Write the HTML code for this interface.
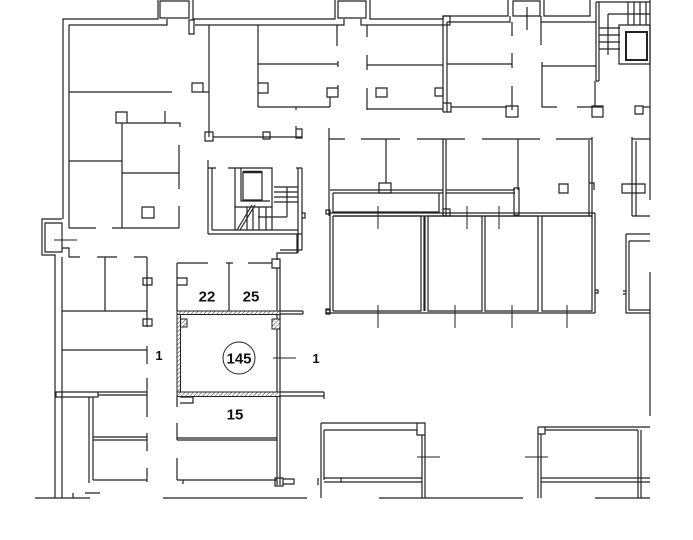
<!DOCTYPE html>
<html><head><meta charset="utf-8"><style>
html,body{margin:0;padding:0;background:#fff;}
svg{display:block;}
text{font-family:"Liberation Sans",sans-serif;fill:#111;}
</style></head><body>
<svg width="693" height="540" viewBox="0 0 693 540" xmlns="http://www.w3.org/2000/svg">
<defs>
<pattern id="h" width="3" height="3" patternUnits="userSpaceOnUse" patternTransform="rotate(45)">
<rect width="3" height="3" fill="#fff"/><line x1="0" y1="0" x2="0" y2="3" stroke="#333" stroke-width="1"/>
</pattern>
</defs>
<rect width="693" height="540" fill="#fff"/>
<g fill="none" stroke="#222" stroke-width="1.2">
<!-- top wall -->
<path d="M63,219 V19 H158 V0 M160,1 H189 V18 H160 Z M193,0 V19 H335 V0 M338,1 H366 V18 H338 Z M370,0 V19 H443 V16 H508 V0 M513,1 H540 V16 H513 Z M544,0 V16 H590 V0"/>
<path d="M527,7 V30"/>
<path d="M69,228 V25 H167 V19 M189,20 H194 V34 H189 Z M195,25 H344 V19 M361,19 V25 H443 M447,22 H510 V16 M541,16 V22 H596"/>
<path d="M443,16 V112 M447,22 V112 M443,16 H450 V25 H443 M443,103 H451 V112 H443"/>
<!-- top-left rooms -->
<path d="M69,92 H172 M192,83 H203 V92 H192 Z M203,92 H209"/>
<path d="M116,112 H127 V123 H116 Z M127,123 H180 V127 M165,111 V123"/>
<path d="M122,123 V228 M69,161 H122 M122,173 H179 M179,145 V189 M179,206 V228"/>
<path d="M142,207 H154 V218 H142 Z"/>
<path d="M69,228 H96 M112,228 H179"/>
<path d="M209,25 V137 M205,132 H213 V141 H205 Z M213,137 H302 M263,132 H270 V139 H263 Z M296,129 H302 V138 H296 Z M296,126 V129"/>
<path d="M258,25 V107 M258,64 H338 M338,61 V67 M258,83 H268 V93 H258 Z M258,107 H330 M296,107 V110 M330,97 V107 M327,88 H338 V97 H327 Z M338,85 V88"/>
<path d="M337,25 V46"/>
<path d="M367,25 V37 M367,55 V70 M367,65 H443 M367,88 V110 M367,109 H443 M376,88 H387 V97 H376 Z M435,88 H443 V96 H435 Z"/>
<!-- right of 443 -->
<path d="M512,22 V36 M541,22 V45 M447,64 H512 M512,53 V68 M512,86 V110 M506,106 H518 V117 H506 Z M451,107 H507"/>
<path d="M542,66 H596 M542,62 V107 H557 M577,107 H603 M592,106 H603 V117 H592 Z M595,81 V106"/>
<!-- top-right stair -->
<path d="M596,2 V81 M599,2 V81 M596,81 H599 M596,2 H650"/>
<path d="M599,28 H620 M599,35 H620 M599,42 H620 M599,49 H620 M628,2 V25 M634,2 V25 M640,2 V25 M646,2 V25 M608,14 H650 M608,14 V55"/>
<path d="M619,25 H650 V64 H619 Z"/>
<path d="M626,32 H647 V60 H626 Z" stroke-width="2"/>
<path d="M635,106 H643 V114 H635 Z M643,107 H650 M650,0 V200"/>
<!-- middle stair -->
<path d="M208,160 V234 M212,168 V230 M208,168 H216 M212,230 H298 M208,234 H302 M298,168 V253 M302,168 V250 M296,168 H302 M302,213 H305 V218 H302 M228,168 H235"/>
<path d="M235,168 H272 V207 H235 Z M241,168 V201 H270"/>
<path d="M243,172 H262 V200 H243 Z"/>
<path d="M243,172 H262" stroke-width="2.4"/>
<path d="M274,187 H298 M274,192 H298 M274,197 H298 M274,202 H298 M287,187 V217 M258,217 H287"/>
<path d="M235,205 V230 M247,207 V230 M253,207 V230 M259,207 V230 M266,207 V230 M272,207 V230 M237,230 L252,205 M240,230 L255,205"/>
<!-- corridor row -->
<path d="M329,128 V216"/>
<path d="M329,139 H345 M361,139 H400 M417,139 H465 M482,139 H540 M556,139 H592 M632,139 H650"/>
<path d="M386,139 V183 M443,139 V216 M446,139 V216 M518,139 V190 M592,137 V218 M589,140 V216 M589,183 H594 V190"/>
<path d="M379,183 H391 V193 H379 Z M559,184 H568 V193 H559 Z M622,184 H645 V193 H622 Z"/>
<path d="M632,137 V216 M636,141 V216 M632,216 H650"/>
<path d="M330,190 H443 M333,193 H443 M446,190 H515 M446,193 H515 M333,193 V212 H439 V193 M443,209 H450 V216 H443 Z M514,188 H519 V215 H514 Z"/>
<path d="M330,213 H595 M333,216 H592"/>
<!-- big rooms -->
<path d="M330,213 V313 M333,216 V311 M326,313 H595 M595,213 V313"/>
<path d="M333,216 H421 V311 H333 M424,216 V311 M425,216 V311 M428,216 H482 V311 H428 Z M485,216 H538 V311 H485 Z M542,216 H592 V311 H542 Z"/>
<path d="M326,210 H330 V214 H326 Z M326,309 H330 V313 H326 Z M595,290 H598 V293 H595"/>
<path d="M378,206 V229 M467,206 V229 M499,206 V229 M378,305 V328 M455,305 V328 M512,305 V328 M567,305 V328" stroke-width="1"/>
<!-- right room -->
<path d="M626,234 H650 M629,241 H650 M626,234 V313 H650 M629,241 V310 H650 M623,291 H626 V294 H623 M650,272 V416"/>
<!-- left lower -->
<path d="M62,219 H42 V255 H55 V498 M45,223 H62 V252 H45 Z M62,228 V232 M62,248 H69 V257 H80 M62,257 V498"/>
<path d="M54,240 H77" stroke-width="1"/>
<path d="M97,257 H117 M134,257 H147 M105,257 V311 M147,257 V327 M62,311 H147"/>
<path d="M143,278 H152 V285 H143 Z M143,319 H152 V326 H143 Z"/>
<path d="M62,350 H147 M147,346 V364"/>
<path d="M56,392 H98 V397 H56 Z M98,392 H147 M98,395 H147 M147,378 V417"/>
<path d="M89,397 V483 M93,397 V480 M93,437 H147 M93,440 H147 M147,433 V451 M147,468 V482 M93,480 H147"/>
<path d="M35,498 H90 M73,493 V498 M85,493 H100"/>
<!-- middle lower -->
<path d="M177,263 V311 M177,278 H187 V285 H177 M177,263 H208 M248,263 H272 M229,263 V311 M226,263 H233 M272,259 H280 V268 H272 Z"/>
<path d="M277,260 V253 H297 V234 M277,268 V485 M280,268 V485 M280,250 H302"/>
<path d="M280,311 H303 M280,314 H303 M303,311 V314 M326,310 H330 V314 H326 Z"/>
<path d="M280,392 H324 M280,396 H324 M324,392 V399"/>
<path d="M180,397 H193 V403 H180 M177,397 V407"/>
<path d="M273,358 H296" stroke-width="1"/>
<path d="M177,423 V440 M177,438 H277 M177,440 H277 M177,458 V480 M177,480 H277 M183,480 V484 M275,478 H283 V486 H275 Z M283,479 H294 V484 H283"/>
<path d="M163,498 H307"/>
<!-- bottom right -->
<path d="M321,423 V498 M324,430 V480 M321,423 H417 M324,430 H417 M417,423 H425 V435 H417 Z M422,435 V498 M425,423 V498 M324,478 H422 M324,482 H422 M331,478 H341 V482 M318,478 V485"/>
<path d="M417,457 H440" stroke-width="1"/>
<path d="M379,498 H523"/>
<path d="M538,427 V498 M541,434 V498 M538,427 H545 V434 H538 M545,427 H650 M545,430 H638 M638,430 V498 M641,430 V498 M541,478 H650 M541,482 H650 M595,498 H650"/>
<path d="M525,457 H548" stroke-width="1"/>
</g>
<!-- hatched walls -->
<g stroke="#222" stroke-width="1">
<rect x="177" y="311" width="103" height="3.5" fill="url(#h)"/>
<rect x="177" y="314.5" width="3.5" height="82" fill="url(#h)"/>
<rect x="177" y="392" width="103" height="4.5" fill="url(#h)"/>
<rect x="180.5" y="319" width="6.5" height="8" fill="url(#h)"/>
<rect x="272" y="319" width="8" height="10" fill="url(#h)"/>
</g>
<circle cx="239" cy="358" r="16" fill="none" stroke="#222" stroke-width="1"/>
<text x="239" y="363.5" font-size="15" font-weight="bold" text-anchor="middle">145</text>
<text x="207" y="301.5" font-size="15" font-weight="bold" text-anchor="middle">22</text>
<text x="251" y="301.5" font-size="15" font-weight="bold" text-anchor="middle">25</text>
<text x="235" y="419.5" font-size="15" font-weight="bold" text-anchor="middle">15</text>
<text x="159" y="360" font-size="13" font-weight="bold" text-anchor="middle">1</text>
<text x="316" y="363" font-size="13" font-weight="bold" text-anchor="middle">1</text>
</svg>
</body></html>
